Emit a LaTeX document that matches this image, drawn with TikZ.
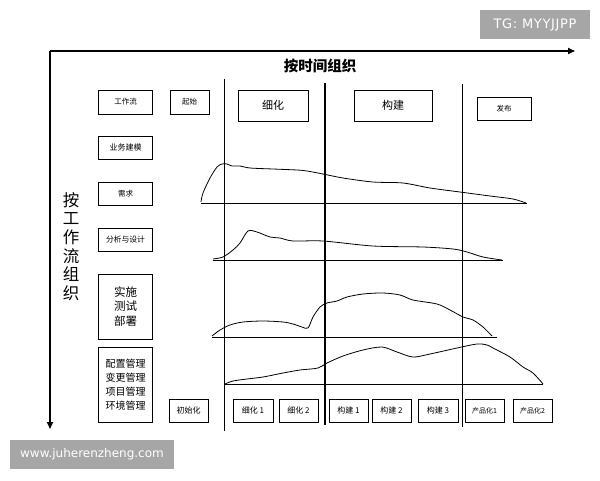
\documentclass[tikz,border=0pt]{standalone}
\usepackage{fontspec}
\setmainfont{Noto Sans CJK SC}
\newfontfamily\wmfont{DejaVu Sans}
\usetikzlibrary{arrows.meta}
\begin{document}
\begin{tikzpicture}[x=1pt,y=-1pt,
  box/.style={draw, line width=0.7pt, inner sep=0pt, align=center, font=\fontsize{7.5}{9}\selectfont},
  small/.style={box, minimum height=23pt},
  axis/.style={line width=1.6pt, -{Triangle[length=7pt,width=6pt]}},
  phase/.style={line width=1.7pt},
  base/.style={line width=0.9pt},
  curve/.style={line width=0.8pt, smooth, tension=0.5},
  wm/.style={fill=black!35, text=white, inner sep=0pt}
]
\useasboundingbox (0,0) rectangle (600,480);
\fill[white] (0,0) rectangle (600,480);

% watermarks
\node[wm, minimum width=110pt, minimum height=29pt, font=\wmfont\fontsize{13}{15}\selectfont\addfontfeature{LetterSpace=5}] (tg) at (535,24.5) {TG: MYYJJPP};
\node[wm, minimum width=164pt, minimum height=29pt, font=\wmfont\fontsize{12}{14}\selectfont] (www) at (92,454.5) {www.juherenzheng.com};

% axes
\coordinate (o) at (50,51);
\coordinate (xend) at (575,51);
\coordinate (yend) at (50,429);
\draw[axis] (o) -- (xend);
\draw[axis] (o) -- (yend);
\node[font=\bfseries\fontsize{14.5}{16}\selectfont] (ttime) at (320,65.5) {按时间组织};
\node[align=center, font=\fontsize{16.5}{18.7}\selectfont] (tflow) at (71,246.5) {按\\工\\作\\流\\组\\织};

% left column
\node[small, minimum width=54pt, minimum height=24pt] (gzl) at (125.5,102) {工作流};
\node[small, minimum width=54pt, font=\fontsize{8}{9}\selectfont] (ywjm) at (125.5,147.5) {业务建模};
\node[small, minimum width=54pt] (xq) at (125.5,193.5) {需求};
\node[small, minimum width=54pt, font=\fontsize{7.8}{9}\selectfont] (fxsj) at (125.5,239.5) {分析与设计};
\node[box, minimum width=54pt, minimum height=65pt, font=\fontsize{11.5}{14.5}\selectfont] (ss) at (125.5,306.5) {实施\\测试\\部署};
\node[box, minimum width=54pt, minimum height=75pt, font=\fontsize{10}{13.8}\selectfont] (pz) at (125.5,384.5) {配置管理\\变更管理\\项目管理\\环境管理};

% top phase boxes
\node[small, minimum width=39pt, minimum height=24pt] (qs) at (189.5,102) {起始};
\node[box, minimum width=70pt, minimum height=31pt, font=\fontsize{11}{13}\selectfont] (xh) at (273,105.5) {细化};
\node[box, minimum width=78pt, minimum height=31pt, font=\fontsize{11}{13}\selectfont] (gj) at (393,105.5) {构建};
\node[small, minimum width=54pt] (fb) at (504,108.5) {发布};

% phase lines
\coordinate (l1t) at (224.5,79); \coordinate (l1b) at (224.5,431);
\coordinate (l2t) at (325,83); \coordinate (l2b) at (325,425);
\coordinate (l3t) at (462.5,84); \coordinate (l3b) at (462.5,427);
\draw[phase] (l1t) -- (l1b);
\draw[phase] (l2t) -- (l2b);
\draw[phase] (l3t) -- (l3b);

% bottom iterations
\node[small, minimum width=39pt, font=\fontsize{8}{9}\selectfont] (csh) at (188.5,410.5) {初始化};
\node[small, minimum width=40pt, font=\fontsize{8}{9}\selectfont] (xh1) at (253,410.5) {细化 1};
\node[small, minimum width=39pt, font=\fontsize{8}{9}\selectfont] (xh2) at (298.5,410.5) {细化 2};
\node[small, minimum width=39pt, font=\fontsize{8}{9}\selectfont] (gj1) at (348.5,410.5) {构建 1};
\node[small, minimum width=39pt, font=\fontsize{8}{9}\selectfont] (gj2) at (391.5,410.5) {构建 2};
\node[small, minimum width=40pt, font=\fontsize{8}{9}\selectfont] (gj3) at (438,410.5) {构建 3};
\node[small, minimum width=39pt, font=\fontsize{7}{9}\selectfont] (cp1) at (484.5,410.5) {产品化1};
\node[small, minimum width=39pt, font=\fontsize{7}{9}\selectfont] (cp2) at (532.5,410.5) {产品化2};

% baselines
\draw[base] (201,203) -- (527,203);
\draw[base] (213,260) -- (503,260);
\draw[base] (212,337) -- (497,337);
\draw[base] (225,384.5) -- (543,384.5);

% curves
\draw[curve] plot coordinates {(201,202) (203,193) (210,178) (217,167) (222,164) (227,164) (232,166) (240,166) (250,168) (273,169) (297,170) (307,171) (323,174) (343,178) (373,182) (403,183) (430,188) (460,192) (490,196) (513,199) (526,203)};
\draw[curve] plot coordinates {(213,259) (223,257) (233,250) (240,243) (248,231) (257,232) (270,237) (280,238) (293,241) (323,241) (373,246) (423,247) (453,249) (467,252) (483,257) (502,260)};
\draw[curve] plot coordinates {(212,336) (220,330) (230,325) (243,322) (263,321) (283,322) (293,324) (302,327) (308,328) (313,317) (320,307) (327,303) (337,301) (347,297) (363,294) (383,293) (400,295) (413,300) (437,304) (450,310) (463,317) (473,320) (483,327) (492,336)};
\draw[curve] plot coordinates {(225,384) (233,381) (247,379) (263,377) (283,373) (300,370) (318,368) (327,363) (343,356) (363,350) (382,347) (397,352) (413,357) (430,354) (457,348) (477,344) (487,345) (493,348) (510,357) (523,367) (533,373) (543,384)};
\end{tikzpicture}
\end{document}
